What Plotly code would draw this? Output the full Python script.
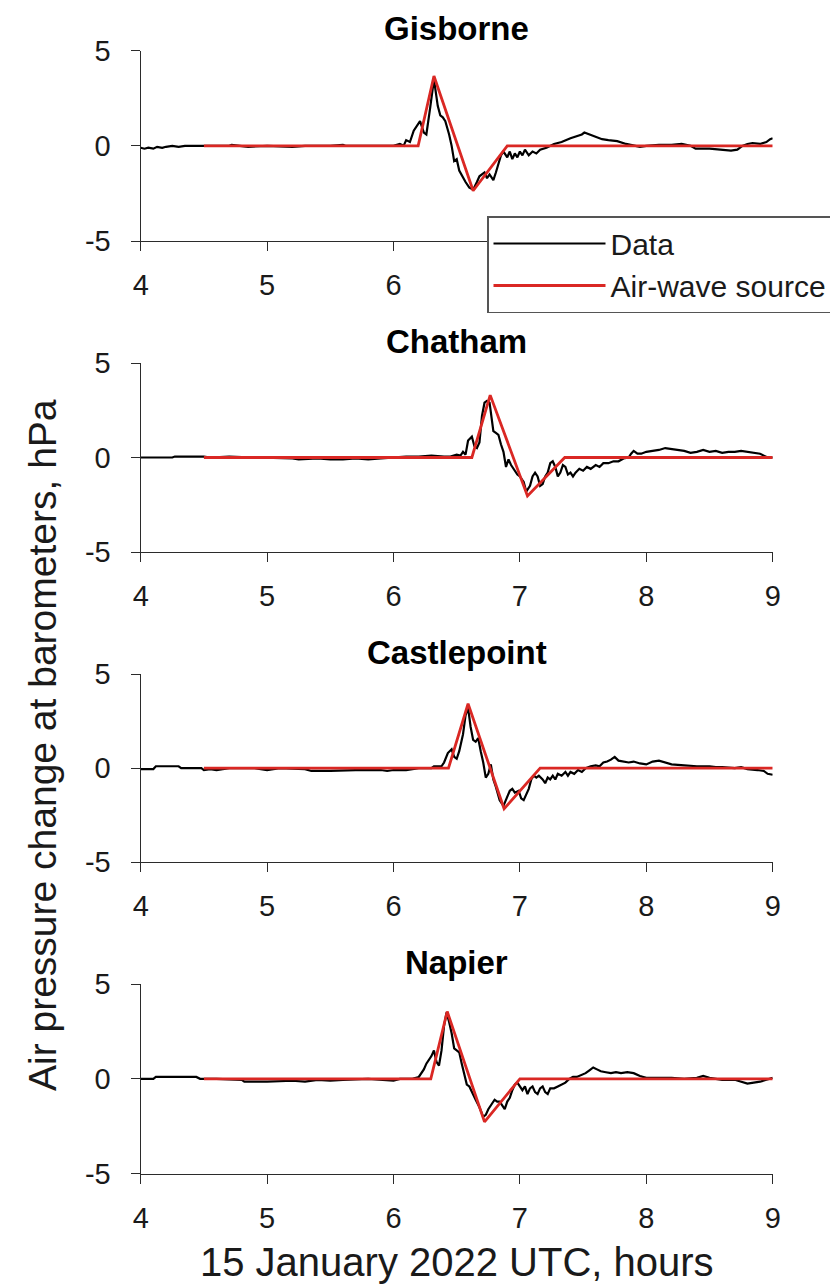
import plotly.graph_objects as go
from plotly.subplots import make_subplots

stations = ["Gisborne", "Chatham", "Castlepoint", "Napier"]

# Observed barometer data (hours UTC, hPa)
gisborne_data = [
    (4.0, -0.1), (4.03, -0.15), (4.06, -0.1), (4.1, -0.15), (4.13, -0.05), (4.17, -0.1), (4.2, -0.05),
    (4.25, 0.0), (4.3, -0.05), (4.35, 0.0), (4.5, 0.0), (4.7, 0.0), (4.72, 0.05), (4.8, 0.0), (4.85, -0.05),
    (5.0, 0.0), (5.2, -0.05), (5.3, 0.0), (5.5, 0.0), (5.6, 0.05), (5.62, 0.0), (5.8, 0.0), (6.0, 0.0),
    (6.05, 0.1), (6.08, 0.0), (6.1, 0.3), (6.13, 0.2), (6.16, 0.8), (6.18, 1.0), (6.21, 1.3), (6.24, 0.7),
    (6.26, 0.6), (6.29, 2.0), (6.32, 3.5), (6.35, 2.1), (6.37, 1.6), (6.39, 1.5), (6.41, 1.3), (6.44, 0.6),
    (6.46, 0.0), (6.48, -0.8), (6.5, -0.7), (6.52, -1.3), (6.55, -1.7), (6.57, -1.9), (6.6, -2.2),
    (6.63, -2.3), (6.66, -1.9), (6.68, -1.6), (6.72, -1.4), (6.74, -1.7), (6.76, -1.5), (6.79, -1.8),
    (6.81, -1.4), (6.83, -0.9), (6.85, -0.5), (6.87, -0.3), (6.9, -0.6), (6.92, -0.3), (6.94, -0.7),
    (6.96, -0.4), (6.98, -0.6), (7.0, -0.3), (7.02, -0.5), (7.04, -0.2), (7.07, -0.5), (7.1, -0.3),
    (7.13, -0.4), (7.16, -0.2), (7.21, -0.1), (7.27, 0.1), (7.33, 0.2), (7.4, 0.4), (7.45, 0.5),
    (7.49, 0.6), (7.51, 0.7), (7.55, 0.6), (7.6, 0.45), (7.65, 0.35), (7.7, 0.3), (7.77, 0.25),
    (7.84, 0.1), (7.9, 0.0), (7.95, -0.05), (8.0, 0.0), (8.1, 0.05), (8.2, 0.05), (8.28, 0.1),
    (8.35, 0.0), (8.39, -0.15), (8.5, -0.15), (8.6, -0.2), (8.67, -0.25), (8.72, -0.2), (8.76, 0.0),
    (8.8, 0.1), (8.84, 0.15), (8.9, 0.1), (8.95, 0.2), (8.98, 0.35), (9.0, 0.4),
]
chatham_data = [
    (4.0, 0.0), (4.25, 0.0), (4.27, 0.05), (4.5, 0.05), (4.55, 0.0), (4.7, 0.05), (4.9, 0.0), (5.2, -0.05),
    (5.25, -0.1), (5.4, -0.05), (5.5, -0.1), (5.6, -0.1), (5.7, -0.05), (5.8, -0.1), (5.9, -0.05),
    (6.0, 0.0), (6.1, 0.05), (6.2, 0.05), (6.3, 0.1), (6.4, 0.05), (6.45, 0.05), (6.5, 0.15), (6.53, 0.1),
    (6.55, 0.3), (6.57, 0.15), (6.59, 0.9), (6.62, 1.1), (6.64, 0.6), (6.66, 0.5), (6.68, 0.8),
    (6.7, 2.2), (6.72, 2.9), (6.74, 3.0), (6.76, 2.9), (6.77, 2.3), (6.79, 1.4), (6.81, 1.3), (6.83, 1.2),
    (6.85, 0.7), (6.87, 0.3), (6.89, -0.5), (6.91, -0.1), (6.93, -0.4), (6.95, -0.6), (6.98, -0.9),
    (7.0, -1.0), (7.03, -1.3), (7.05, -1.8), (7.08, -1.5), (7.1, -1.0), (7.12, -0.8), (7.14, -1.0),
    (7.16, -1.5), (7.18, -1.4), (7.2, -1.0), (7.22, -0.8), (7.24, -0.3), (7.26, -0.2), (7.28, -0.5),
    (7.3, -1.0), (7.32, -0.8), (7.34, -0.4), (7.36, -0.5), (7.38, -0.9), (7.4, -0.8), (7.42, -1.0),
    (7.44, -0.8), (7.47, -0.6), (7.5, -0.7), (7.53, -0.5), (7.56, -0.6), (7.6, -0.4), (7.63, -0.5),
    (7.66, -0.3), (7.7, -0.3), (7.74, -0.2), (7.78, -0.2), (7.82, -0.05), (7.86, 0.0), (7.88, 0.2),
    (7.9, 0.35), (7.93, 0.2), (7.96, 0.2), (8.0, 0.3), (8.05, 0.35), (8.1, 0.4), (8.15, 0.5),
    (8.2, 0.45), (8.25, 0.4), (8.3, 0.35), (8.35, 0.25), (8.4, 0.3), (8.45, 0.4), (8.5, 0.3),
    (8.55, 0.35), (8.6, 0.25), (8.65, 0.3), (8.7, 0.3), (8.75, 0.35), (8.8, 0.3), (8.85, 0.25),
    (8.9, 0.2), (8.93, 0.1), (8.96, 0.0), (9.0, 0.0),
]
castlepoint_data = [
    (4.0, -0.05), (4.1, -0.05), (4.12, 0.1), (4.3, 0.1), (4.32, 0.0), (4.48, 0.0), (4.5, -0.1),
    (4.55, -0.05), (4.6, -0.1), (4.7, 0.0), (4.9, 0.0), (5.0, -0.1), (5.1, 0.0), (5.3, -0.05),
    (5.35, -0.15), (5.5, -0.15), (5.7, -0.1), (5.9, -0.1), (5.95, -0.15), (6.0, -0.1), (6.1, -0.1),
    (6.2, 0.0), (6.3, 0.0), (6.32, 0.1), (6.38, 0.1), (6.4, 0.3), (6.43, 0.8), (6.46, 1.0), (6.48, 0.6),
    (6.5, 0.5), (6.52, 0.9), (6.55, 1.8), (6.57, 2.8), (6.59, 3.2), (6.61, 2.2), (6.63, 1.5),
    (6.65, 1.4), (6.67, 1.6), (6.69, 0.9), (6.71, 0.3), (6.73, -0.5), (6.75, -0.3), (6.77, 0.2),
    (6.79, -0.6), (6.81, -1.0), (6.84, -1.7), (6.87, -2.0), (6.89, -1.7), (6.92, -1.2), (6.94, -1.1),
    (6.96, -1.3), (6.99, -1.2), (7.01, -1.6), (7.03, -1.7), (7.05, -1.4), (7.07, -1.1), (7.09, -0.6),
    (7.11, -0.4), (7.13, -0.5), (7.15, -0.4), (7.18, -0.6), (7.2, -0.8), (7.22, -0.5), (7.24, -0.6),
    (7.26, -0.4), (7.28, -0.6), (7.3, -0.3), (7.33, -0.4), (7.36, -0.2), (7.38, -0.4), (7.4, -0.2),
    (7.43, -0.3), (7.46, -0.1), (7.49, -0.2), (7.52, 0.0), (7.56, 0.1), (7.6, 0.15), (7.63, 0.1),
    (7.66, 0.3), (7.69, 0.35), (7.72, 0.45), (7.75, 0.6), (7.78, 0.4), (7.82, 0.35), (7.86, 0.3),
    (7.9, 0.35), (7.95, 0.25), (8.0, 0.2), (8.05, 0.35), (8.1, 0.4), (8.15, 0.3), (8.2, 0.2),
    (8.3, 0.15), (8.4, 0.1), (8.5, 0.1), (8.55, 0.05), (8.6, 0.05), (8.7, 0.0), (8.75, 0.05),
    (8.8, -0.05), (8.88, -0.1), (8.93, -0.15), (8.96, -0.3), (9.0, -0.35),
]
napier_data = [
    (4.0, 0.0), (4.1, 0.0), (4.12, 0.1), (4.44, 0.1), (4.47, 0.0), (4.6, 0.0), (4.8, -0.05),
    (4.82, -0.15), (5.0, -0.15), (5.2, -0.1), (5.3, -0.15), (5.4, -0.05), (5.5, -0.1), (5.6, -0.05),
    (5.8, 0.0), (5.9, -0.05), (6.0, -0.1), (6.05, 0.0), (6.15, 0.0), (6.2, 0.1), (6.22, 0.3),
    (6.24, 0.5), (6.26, 0.8), (6.28, 1.0), (6.3, 1.2), (6.32, 1.5), (6.34, 0.9), (6.36, 0.7),
    (6.38, 1.5), (6.4, 2.8), (6.42, 3.5), (6.44, 3.0), (6.46, 2.4), (6.48, 1.6), (6.5, 1.5),
    (6.52, 1.4), (6.54, 0.8), (6.56, 0.2), (6.58, -0.3), (6.6, -0.4), (6.62, -0.7), (6.65, -1.1),
    (6.68, -1.5), (6.71, -2.0), (6.73, -1.9), (6.75, -1.6), (6.78, -1.3), (6.8, -1.1), (6.82, -1.2),
    (6.84, -1.2), (6.86, -1.4), (6.88, -1.6), (6.9, -1.2), (6.92, -1.0), (6.94, -0.6), (6.96, -0.3),
    (6.98, -0.2), (7.0, -0.4), (7.02, -0.6), (7.04, -0.4), (7.06, -0.8), (7.08, -0.5), (7.1, -0.4),
    (7.12, -0.7), (7.14, -0.8), (7.16, -0.5), (7.18, -0.4), (7.2, -0.7), (7.22, -0.8), (7.24, -0.5),
    (7.27, -0.5), (7.3, -0.4), (7.33, -0.3), (7.36, -0.2), (7.39, 0.0), (7.42, 0.1), (7.45, 0.1),
    (7.48, 0.2), (7.52, 0.3), (7.55, 0.45), (7.58, 0.6), (7.61, 0.5), (7.64, 0.4), (7.68, 0.35),
    (7.72, 0.3), (7.76, 0.35), (7.8, 0.3), (7.85, 0.35), (7.9, 0.3), (7.95, 0.15), (8.0, 0.05),
    (8.1, 0.05), (8.2, 0.05), (8.3, 0.0), (8.4, 0.05), (8.45, 0.15), (8.5, 0.05), (8.55, 0.0),
    (8.6, -0.05), (8.7, -0.05), (8.75, -0.15), (8.8, -0.25), (8.85, -0.2), (8.9, -0.15),
    (8.95, -0.05), (9.0, 0.05),
]

# Air-wave source model (piecewise linear)
gisborne_src_t = [4.5, 6.195, 6.32, 6.63, 6.90, 9.0]
gisborne_src_p = [0, 0, 3.67, -2.36, 0, 0]
chatham_src_t = [4.5, 6.62, 6.765, 7.06, 7.355, 9.0]
chatham_src_p = [0, 0, 3.3, -2.03, 0, 0]
castlepoint_src_t = [4.5, 6.435, 6.59, 6.875, 7.16, 9.0]
castlepoint_src_p = [0, 0, 3.42, -2.16, 0, 0]
napier_src_t = [4.5, 6.295, 6.425, 6.72, 7.0, 9.0]
napier_src_p = [0, 0, 3.55, -2.27, 0, 0]

x_ticks = [4, 5, 6, 7, 8, 9]
x_tick_text = ["4", "5", "6", "7", "8", "9"]
# top panel: labels 7-9 sit behind the legend box
x_tick_text_top = ["4", "5", "6", "", "", ""]
y_ticks = [-5, 0, 5]
y_tick_text = ["-5", "0", "5"]

data_sets = [gisborne_data, chatham_data, castlepoint_data, napier_data]
src_sets = [(gisborne_src_t, gisborne_src_p), (chatham_src_t, chatham_src_p),
            (castlepoint_src_t, castlepoint_src_p), (napier_src_t, napier_src_p)]

W, H = 830, 1286
FONT = "Liberation Sans, Arial, Helvetica, sans-serif"
AX = "#2b2b2b"
RED = "rgb(218,40,36)"

x_dom = [140.7 / W, 772.7 / W]
y_px = [(50.7, 241.0), (363.0, 552.0), (674.0, 862.3), (984.0, 1173.7)]

fig = make_subplots(rows=4, cols=1)

for i, (name, dat, (st, sp)) in enumerate(zip(stations, data_sets, src_sets)):
    r = i + 1
    fig.add_trace(go.Scatter(x=[d[0] for d in dat], y=[d[1] for d in dat], mode="lines",
                             line=dict(color="black", width=2.2), name="Data",
                             showlegend=(i == 0)), row=r, col=1)
    fig.add_trace(go.Scatter(x=st, y=sp, mode="lines",
                             line=dict(color=RED, width=2.8), name="Air-wave source",
                             showlegend=(i == 0)), row=r, col=1)

axis_common = dict(showline=True, linecolor=AX, linewidth=1.3, ticks="outside", ticklen=9,
                   tickwidth=1.3, tickcolor=AX, showgrid=False, zeroline=False, mirror=False,
                   tickfont=dict(family=FONT, size=29, color="#1a1a1a"))

for i in range(4):
    top, bot = y_px[i]
    xa = "xaxis" if i == 0 else f"xaxis{i+1}"
    ya = "yaxis" if i == 0 else f"yaxis{i+1}"
    fig.layout[xa].update(domain=x_dom, range=[4, 9], tickvals=x_ticks,
                          ticktext=(x_tick_text_top if i == 0 else x_tick_text),
                          ticklabelstandoff=9, **axis_common)
    fig.layout[ya].update(domain=[1 - bot / H, 1 - top / H], range=[-5, 5], tickvals=y_ticks,
                          ticktext=y_tick_text, ticklabelstandoff=14, **axis_common)
    fig.add_annotation(text="<b>" + stations[i] + "</b>", xref="paper", yref="paper",
                       x=(x_dom[0] + x_dom[1]) / 2, y=1 - (top - 22) / H, xanchor="center",
                       yanchor="middle", showarrow=False,
                       font=dict(family=FONT, size=33, color="black"))

fig.add_annotation(text="15 January 2022 UTC, hours", xref="paper", yref="paper",
                   x=(x_dom[0] + x_dom[1]) / 2, y=1 - 1262 / H, xanchor="center", yanchor="middle",
                   showarrow=False, font=dict(family=FONT, size=40, color="#1a1a1a"))
fig.add_annotation(text="Air pressure change at barometers, hPa", xref="paper", yref="paper",
                   x=42 / W, y=1 - 745 / H, xanchor="center", yanchor="middle", textangle=-90,
                   showarrow=False, font=dict(family=FONT, size=39, color="#1a1a1a"))

fig.update_layout(
    width=W, height=H,
    margin=dict(l=0, r=0, t=0, b=0, autoexpand=False),
    paper_bgcolor="white", plot_bgcolor="white",
    legend=dict(x=487 / W, y=1 - 216 / H, xanchor="left", yanchor="top",
                bgcolor="white", bordercolor="#555555", borderwidth=1.5,
                font=dict(family=FONT, size=30, color="#1a1a1a"), itemwidth=112,
                tracegroupgap=0),
    font=dict(family=FONT),
)

fig.write_html("out.html", config={"displayModeBar": False},
               post_script="document.body.style.margin='0px';")
